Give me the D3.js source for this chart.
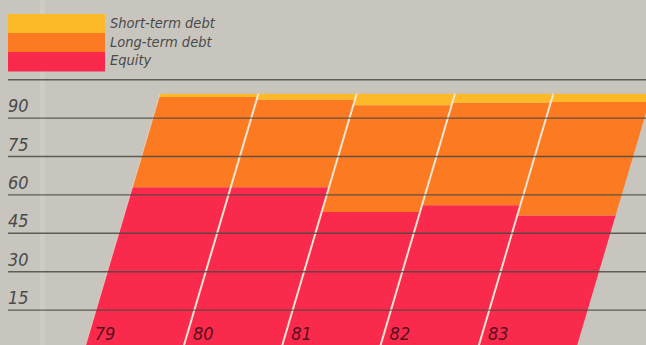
<!DOCTYPE html>
<html>
<head>
<meta charset="utf-8">
<script src="https://cdn.jsdelivr.net/npm/d3@7"></script>
<style>
  html, body { margin: 0; padding: 0; background: #c7c5be; }
  svg { display: block; }
  text { font-family: "Liberation Sans Narrow", "DejaVu Sans Condensed", sans-serif; font-style: italic; fill: #4a4a48; }
</style>
</head>
<body>
<div id="chart"></div>
<script>
// values (percent of capital)
const years = ["79", "80", "81", "82", "83"];
const equity = [63, 63, 53.3, 56, 52];
const longTermDebt = [35.2, 34.2, 41.7, 40, 44.3];
const shortTermDebt = [1.3, 2.3, 4.5, 3.5, 3.2];
const yTicks = [15, 30, 45, 60, 75, 90];
const seriesNames = ["Equity", "Long-term debt", "Short-term debt"];
const legendOrder = ["Short-term debt", "Long-term debt", "Equity"];

const w = 646;
const h = 345;
const colors = {
  "Equity": "#f92a4b",
  "Long-term debt": "#fc7b22",
  "Short-term debt": "#fdb928"
};

const rows = years.map((yr, i) => ({
  year: yr,
  "Equity": equity[i],
  "Long-term debt": longTermDebt[i],
  "Short-term debt": shortTermDebt[i]
}));

const svg = d3.select("#chart")
  .append("svg")
  .attr("width", w)
  .attr("height", h);

// faint lighter fold in the paper
svg.append("rect")
  .attr("x", 40).attr("y", 0)
  .attr("width", 5).attr("height", h)
  .attr("fill", "#cfcdc3");

const yScale = d3.scaleLinear()
  .domain([0, 105])
  .range([348.5, 79.7]);

const xScale = d3.scaleBand()
  .domain(years)
  .range([84.7, 576.2])
  .padding(0);

const slope = 0.296; // bars lean to the right
const skew = v => (yScale(0) - yScale(v)) * slope;
const bw = xScale.bandwidth();

const stack = d3.stack().keys(seriesNames);
const layers = stack(rows);

const pts = (d) => {
  const x0 = xScale(d.data.year);
  const a = d[0], b = d[1];
  return [
    [x0 + skew(a), yScale(a)],
    [x0 + bw + skew(a), yScale(a)],
    [x0 + bw + skew(b), yScale(b)],
    [x0 + skew(b), yScale(b)]
  ].map(p => p.join(",")).join(" ");
};

svg.selectAll("g.layer")
  .data(layers)
  .enter()
  .append("g")
  .attr("class", "layer")
  .attr("fill", d => colors[d.key])
  .selectAll("polygon")
  .data(d => d)
  .enter()
  .append("polygon")
  .attr("points", pts);

// light separators between the slanted bars
const totals = rows.map((r, i) => equity[i] + longTermDebt[i] + shortTermDebt[i]);
svg.selectAll("line.sep")
  .data(years)
  .enter()
  .append("line")
  .attr("class", "sep")
  .attr("x1", d => xScale(d))
  .attr("y1", yScale(0))
  .attr("x2", (d, i) => xScale(d) + skew(totals[i]))
  .attr("y2", (d, i) => yScale(totals[i]))
  .attr("stroke", "#efe5d3")
  .attr("stroke-width", (d, i) => i == 0 ? 1 : 2)
  .attr("stroke-opacity", (d, i) => i == 0 ? 0.6 : 1);

// grid lines, drawn over the bars
svg.selectAll("line.grid")
  .data(yTicks.concat([105]))
  .enter()
  .append("line")
  .attr("class", "grid")
  .attr("x1", 8)
  .attr("x2", w)
  .attr("y1", d => yScale(d))
  .attr("y2", d => yScale(d))
  .attr("stroke", "#4c4944")
  .attr("stroke-opacity", 0.85)
  .attr("stroke-width", 1.4);

svg.selectAll("text.ylab")
  .data(yTicks)
  .enter()
  .append("text")
  .attr("class", "ylab")
  .attr("x", 8)
  .attr("y", d => yScale(d) - 6)
  .attr("font-size", 18)
  .text(d => d);

svg.selectAll("text.xlab")
  .data(years)
  .enter()
  .append("text")
  .attr("class", "xlab")
  .attr("x", d => xScale(d) + 10)
  .attr("y", 340)
  .attr("font-size", 18)
  .style("fill", "#5a1020")
  .text(d => d);

// legend
const legend = svg.append("g");
legend.selectAll("rect")
  .data(legendOrder)
  .enter()
  .append("rect")
  .attr("x", 8)
  .attr("y", (d, i) => 14 + i * 19)
  .attr("width", 97)
  .attr("height", 19.5)
  .attr("fill", d => colors[d]);

legend.selectAll("text")
  .data(legendOrder)
  .enter()
  .append("text")
  .attr("x", 110)
  .attr("y", (d, i) => 28 + i * 18.5)
  .attr("font-size", 14.5)
  .text(d => d);
</script>
</body>
</html>
